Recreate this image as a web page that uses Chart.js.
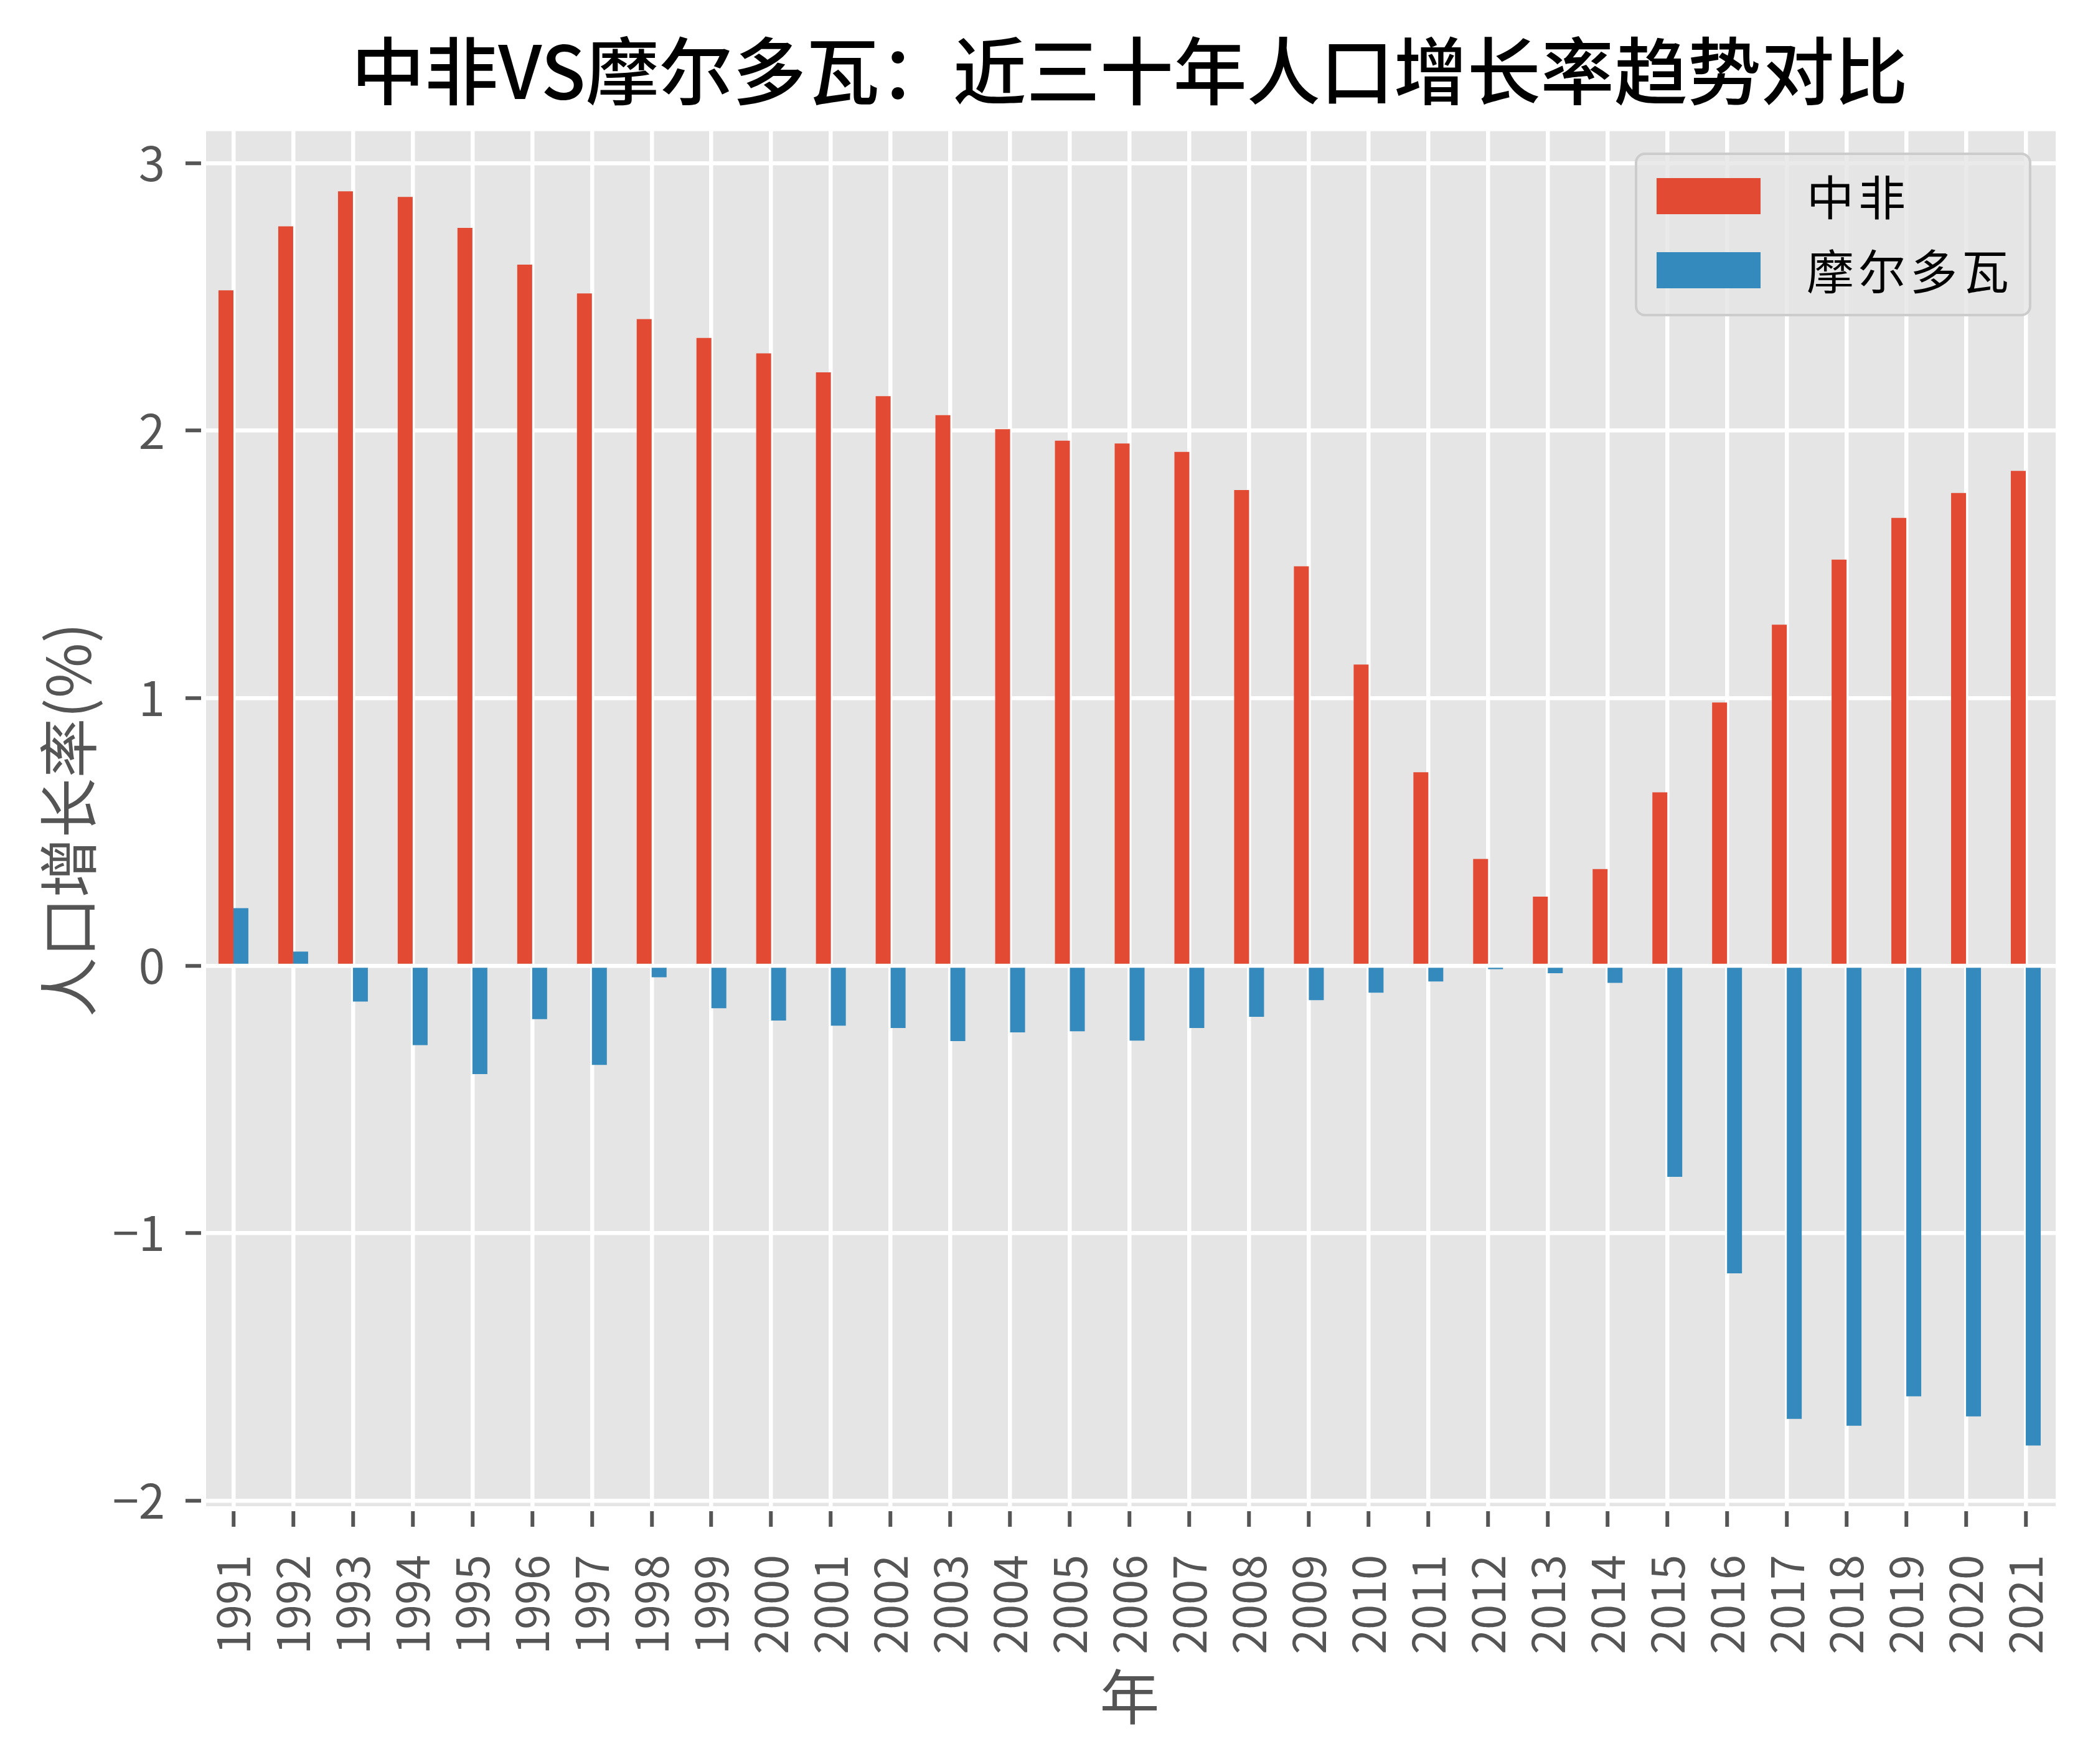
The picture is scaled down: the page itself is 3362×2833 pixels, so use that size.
<!DOCTYPE html>
<html lang="zh">
<head>
<meta charset="UTF-8">
<title>中非VS摩尔多瓦：近三十年人口增长率趋势对比</title>
<script src="https://cdn.jsdelivr.net/npm/chart.js@4.4.1/dist/chart.umd.min.js"></script>
<style>
  html, body { margin: 0; padding: 0; background: #fff; }
  #grafico { display: block; }
</style>
</head>
<body>
<canvas id="grafico" width="3362" height="2833"></canvas>
<script>
// ======= Dados =======
const anos = ['1991','1992','1993','1994','1995','1996','1997','1998','1999','2000',
  '2001','2002','2003','2004','2005','2006','2007','2008','2009','2010',
  '2011','2012','2013','2014','2015','2016','2017','2018','2019','2020','2021'];
const zhongfei = [2.525, 2.764, 2.895, 2.874, 2.758, 2.621, 2.513, 2.417, 2.347, 2.289,
  2.218, 2.129, 2.058, 2.006, 1.963, 1.952, 1.921, 1.778, 1.493, 1.126,
  0.723, 0.399, 0.258, 0.361, 0.648, 0.984, 1.275, 1.518, 1.674, 1.767, 1.850];
const moerduowa = [0.215, 0.053, -0.134, -0.297, -0.405, -0.200, -0.371, -0.043, -0.159, -0.205,
  -0.224, -0.233, -0.282, -0.249, -0.245, -0.280, -0.233, -0.191, -0.129, -0.101,
  -0.059, -0.013, -0.028, -0.064, -0.789, -1.150, -1.694, -1.720, -1.610, -1.685, -1.794];
const ticksY = [-2, -1, 0, 1, 2, 3];

const fonte = "'Noto Sans CJK SC', 'Noto Sans', sans-serif";
const cinza = '#555555';

// ======= Fundo da área do gráfico =======
const fundoPlugin = {
  id: 'fundo',
  beforeDraw(chart) {
    const { ctx, chartArea: a } = chart;
    ctx.save();
    ctx.fillStyle = '#E5E5E5';
    ctx.fillRect(a.left, a.top, a.right - a.left, a.bottom - a.top);
    ctx.restore();
  }
};

// ======= Legenda dentro do gráfico =======
const legendaPlugin = {
  id: 'legendaInterna',
  afterDraw(chart) {
    const ctx = chart.ctx;
    const x = 2628, y = 247, w = 633, h = 259;
    ctx.save();
    ctx.beginPath();
    ctx.roundRect(x, y, w, h, 14);
    ctx.fillStyle = 'rgba(229,229,229,0.8)';
    ctx.fill();
    ctx.lineWidth = 4;
    ctx.strokeStyle = '#cccccc';
    ctx.stroke();

    chart.data.datasets.forEach((ds, i) => {
      const cy = 315 + i * 119;
      ctx.fillStyle = ds.backgroundColor;
      ctx.fillRect(2661, cy - 29, 167, 58);
      ctx.fillStyle = '#000';
      ctx.font = `76px ${fonte}`;
      ctx.textBaseline = 'middle';
      ctx.textAlign = 'left';
      if ('letterSpacing' in ctx) ctx.letterSpacing = '7px';
      ctx.fillText(ds.label, 2902, cy + 2);
    });
    ctx.restore();
  }
};

// ======= Gráfico =======
new Chart(document.getElementById('grafico'), {
  type: 'bar',
  data: {
    labels: anos,
    datasets: [
      { label: '中非', data: zhongfei, backgroundColor: '#E24A33' },
      { label: '摩尔多瓦', data: moerduowa, backgroundColor: '#348ABD' }
    ]
  },
  options: {
    responsive: false,
    animation: false,
    devicePixelRatio: 1,
    categoryPercentage: 0.5,
    barPercentage: 1.0,
    layout: { padding: { left: 0, right: 60, top: 0, bottom: 0 } },
    plugins: {
      legend: { display: false },
      tooltip: { enabled: false },
      title: {
        display: true,
        fullSize: false,
        text: '中非VS摩尔多瓦：近三十年人口增长率趋势对比',
        color: '#000',
        font: { family: fonte, size: 118, weight: '500' },
        padding: { top: 43, bottom: 26 }
      }
    },
    scales: {
      x: {
        type: 'category',
        offset: true,
        afterFit: s => { s.height = 410; s.paddingLeft = 0; s.paddingRight = 0; },
        grid: {
          offset: false,
          color: '#ffffff',
          lineWidth: 6.5,
          drawTicks: true,
          tickLength: 29,
          tickColor: cinza,
          tickWidth: 6
        },
        border: { display: true, color: '#ffffff', width: 8 },
        ticks: {
          autoSkip: false,
          maxRotation: 90,
          minRotation: 90,
          padding: 45,
          color: cinza,
          font: { family: fonte, size: 72 }
        },
        title: {
          display: true,
          text: '年',
          color: cinza,
          font: { family: fonte, size: 96 },
          padding: { top: 0, bottom: 51 }
        }
      },
      y: {
        min: -2.03,
        max: 3.12,
        afterFit: s => { s.width = 327; s.paddingTop = 0; s.paddingBottom = 0; },
        afterBuildTicks: s => { s.ticks = ticksY.map(v => ({ value: v })); },
        grid: {
          color: '#ffffff',
          lineWidth: 6.5,
          drawTicks: true,
          tickLength: 29,
          tickColor: cinza,
          tickWidth: 6
        },
        border: { display: true, color: '#ffffff', width: 8 },
        ticks: {
          padding: 33,
          color: cinza,
          font: { family: fonte, size: 76 },
          callback: v => String(v).replace('-', '\u2212')
        },
        title: {
          display: true,
          text: '人口增长率(%)',
          color: cinza,
          font: { family: fonte, size: 96 },
          padding: { top: 52, bottom: 0 }
        }
      }
    }
  },
  plugins: [fundoPlugin, legendaPlugin]
});
</script>
</body>
</html>
